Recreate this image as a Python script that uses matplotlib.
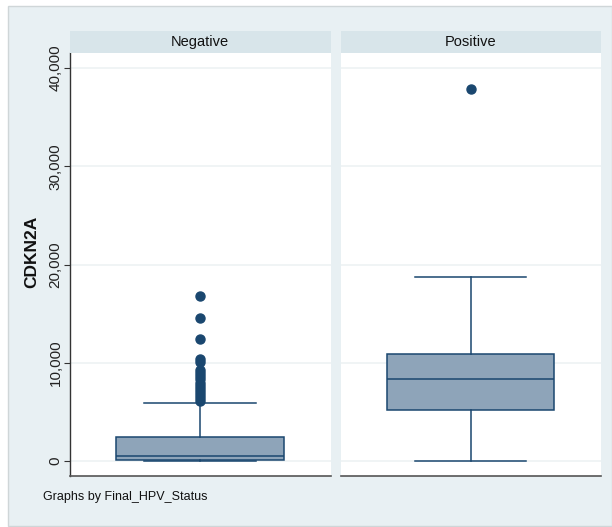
import matplotlib
matplotlib.use("Agg")
import matplotlib.pyplot as plt
from matplotlib.patches import Rectangle
from matplotlib.ticker import FuncFormatter

plt.rcParams['font.family'] = ['Liberation Sans', 'DejaVu Sans']

# ---- data ----
groups = ["Negative", "Positive"]
q1 = [100, 5160]
median = [540, 8350]
q3 = [2440, 10860]
whislo = [0, 0]
whishi = [5930, 18760]
fliers_negative = [16800, 14580, 12420, 10380, 10110, 9250, 8950, 8650, 8300,
                   7950, 7650, 7350, 7050, 6750, 6450, 6150]
fliers_positive = [37860]
fliers = [fliers_negative, fliers_positive]
yticks = [0, 10000, 20000, 30000, 40000]
ylabel = "CDKN2A"
note = "Graphs by Final_HPV_Status"

# ---- styling ----
W, H = 612, 527
bg = "#e8f0f3"
strip = "#d8e5ea"
grid = "#edf2f4"
navy = "#1a476f"
boxface = "#8ea4b9"

fig = plt.figure(figsize=(W / 100, H / 100), dpi=100, facecolor="white")
fig.patches.append(Rectangle((8 / W, 1 / H), 1 - 8 / W, (526 - 6) / H,
                             transform=fig.transFigure, facecolor=bg,
                             edgecolor="#cfd6d8", linewidth=1, zorder=-10))

def px(l, r, t, b):
    return [l / W, (H - b) / H, (r - l) / W, (b - t) / H]

panels = [(69.5, 330.5), (340.5, 601)]
top, bottom = 53, 476
ylim = (-1530, 41530)
fmt = FuncFormatter(lambda v, p: f"{int(v):,}")

for i, (l, r) in enumerate(panels):
    ax = fig.add_axes(px(l, r, top, bottom))
    ax.set_facecolor("white")
    stats = [dict(q1=q1[i], med=median[i], q3=q3[i], whislo=whislo[i],
                  whishi=whishi[i], fliers=fliers[i])]
    ax.bxp(stats, positions=[1], widths=0.642, capwidths=0.427,
           patch_artist=True, showfliers=True,
           boxprops=dict(facecolor=boxface, edgecolor=navy, linewidth=1.1),
           medianprops=dict(color=navy, linewidth=1.1),
           whiskerprops=dict(color=navy, linewidth=1.1),
           capprops=dict(color=navy, linewidth=1.1),
           flierprops=dict(marker="o", markerfacecolor=navy,
                           markeredgecolor=navy, markersize=6.5))
    ax.set_xlim(0.5, 1.5)
    ax.set_ylim(*ylim)
    ax.set_xticks([])
    ax.set_yticks(yticks)
    ax.yaxis.set_major_formatter(fmt)
    ax.grid(axis="y", color=grid, linewidth=1.2)
    ax.set_axisbelow(True)
    for s in ["top", "right"]:
        ax.spines[s].set_visible(False)
    ax.spines["bottom"].set_color("#555555")
    ax.spines["bottom"].set_linewidth(1.2)
    if i == 0:
        ax.spines["left"].set_color("#333333")
        ax.spines["left"].set_linewidth(1.0)
        ax.tick_params(axis="y", length=4, width=0.8, color="#333333",
                       labelsize=11, pad=1, labelcolor="#222222")
        for lab in ax.get_yticklabels():
            lab.set_rotation(90)
            lab.set_va("center")
    else:
        ax.spines["left"].set_visible(False)
        ax.tick_params(axis="y", length=0, labelleft=False)
    # header strip
    hax = fig.add_axes(px(l, r, 31, top))
    hax.set_facecolor(strip)
    hax.set_xticks([]); hax.set_yticks([])
    for s in hax.spines.values():
        s.set_visible(False)
    hax.text(0.5, 0.5, groups[i], ha="center", va="center", fontsize=10.5,
             color="#111111", transform=hax.transAxes)

fig.text(32 / W, 1 - 252 / H, ylabel, rotation=90, ha="center", va="center",
         fontsize=12.5, fontweight="bold", color="#111111")

fig.text(43 / W, 1 - 497 / H, note, ha="left", va="center", fontsize=9,
         color="#111111")

fig.savefig("out.png", dpi=100, facecolor=fig.get_facecolor())
